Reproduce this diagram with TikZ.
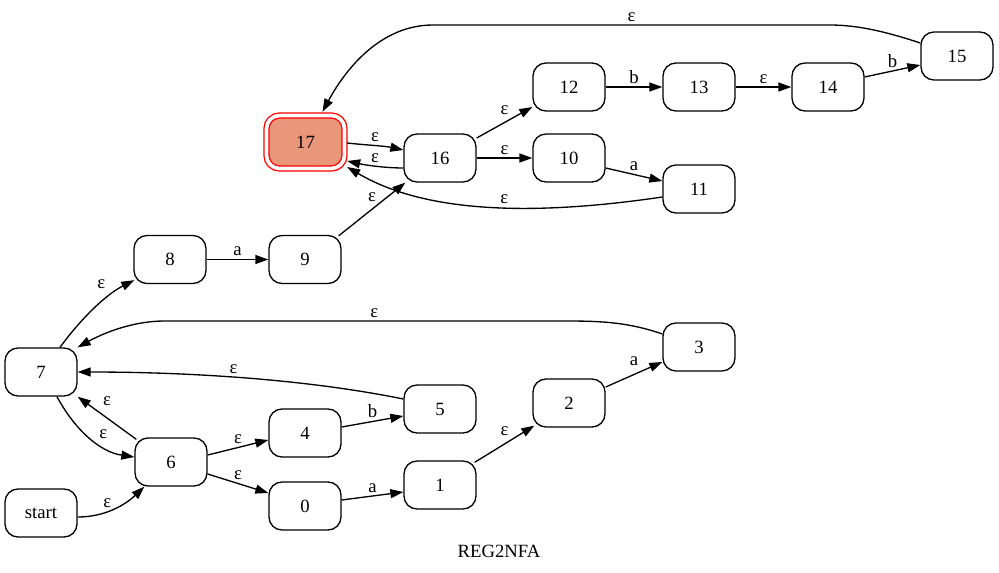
\documentclass[tikz,border=0pt]{standalone}
\usepackage{fontspec}
\setmainfont{Liberation Serif}
\usetikzlibrary{arrows.meta,calc}

\tikzset{
  state/.style={draw,line width=1.33pt,rounded corners=13pt,minimum width=72pt,minimum height=48pt,inner sep=0pt,font=\fontsize{18.7}{22}\selectfont},
  final/.style={state,draw=red,fill=accentfill,minimum width=78pt,minimum height=53pt,double=white,double distance=3.7pt},
  edge/.style={-{Triangle[length=13pt,width=9pt]},line width=1.33pt},
  lbl/.style={font=\fontsize{18.7}{22}\selectfont,inner sep=3pt}
}
\definecolor{accentfill}{HTML}{E9967A}

\begin{document}
\begin{tikzpicture}[x=1pt,y=-1pt]
\useasboundingbox (0,0) rectangle (999,573);
% states
\node[state] (start) at (41,513) {start};
\node[state] (n6) at (171,462) {6};
\node[state] (n7) at (41,372) {7};
\node[state] (n4) at (305,433) {4};
\node[state] (n0) at (305,506) {0};
\node[state] (n5) at (440,409) {5};
\node[state] (n1) at (440,485) {1};
\node[state] (n2) at (569,403) {2};
\node[state] (n3) at (699,347) {3};
\node[state] (n8) at (170,259.5) {8};
\node[state] (n9) at (305,259.5) {9};
\node[state] (n16) at (440,158) {16};
\node[final] (n17) at (305.5,142) {17};
\node[state] (n12) at (569,87) {12};
\node[state] (n13) at (699,87) {13};
\node[state] (n14) at (828,87) {14};
\node[state] (n15) at (957,56) {15};
\node[state] (n10) at (569,158) {10};
\node[state] (n11) at (699,189) {11};
% transitions
\draw[edge] ($(start.east)+(0,4)$) .. controls (105,517) and (125,505) .. node[lbl,above,pos=0.4] {ε} ($(n6.south west)+(10,0)$);
\draw[edge] ($(n7.south)+(16,0)$) .. controls (75,430) and (100,452) .. node[lbl,above=4pt,pos=0.67] {ε} ($(n6.west)+(0,-5)$);
\draw[edge] ($(n6.north west)+(2,2)$) -- node[lbl,above=9pt] {ε} (n7.south east);
\draw[edge] ($(n6.east)+(0,-7)$) -- node[lbl,above] {ε} ($(n4.west)+(0,7)$);
\draw[edge] ($(n6.east)+(0,12)$) -- node[lbl,above] {ε} ($(n0.west)+(0,-13)$);
\draw[edge] ($(n4.east)+(0,-6)$) -- node[lbl,above] {b} ($(n5.west)+(0,7)$);
\draw[edge] ($(n0.east)+(0,-6)$) -- node[lbl,above] {a} ($(n1.west)+(0,7)$);
\draw[edge] ($(n5.west)+(0,-10)$) .. controls (300,378) and (180,372) .. node[lbl,above,pos=0.52] {ε} (n7.east);
\draw[edge] ($(n1.north east)+(-2,2)$) -- node[lbl,above=5pt] {ε} ($(n2.south west)+(2,-2)$);
\draw[edge] ($(n2.east)+(0,-16)$) -- node[lbl,above=5pt] {a} ($(n3.west)+(0,15)$);
\draw[edge] ($(n3.west)+(0,-13)$) .. controls (625,321) and (595,321) .. (560,321)
  -- node[lbl,above,pos=0.47] {ε} (165,321) .. controls (130,321) and (100,335) .. (n7.north east);
\draw[edge] ($(n7.north)+(19,0)$) .. controls (80,320) and (105,295) .. node[lbl,above=10pt,pos=0.6] {ε} ($(n8.south west)+(1,-4)$);
\draw[edge] (n8.east) -- node[lbl,above] {a} (n9.west);
\draw[edge] ($(n9.north east)+(-3,1)$) -- node[lbl,above=4pt] {ε} ($(n16.south west)+(2,0)$);
\draw[edge] ($(n17.east)+(2,1)$) .. controls (365,145) and (385,146) .. node[lbl,above] {ε} ($(n16.west)+(0,-8)$);
\draw[edge] ($(n16.west)+(0,10)$) .. controls (385,168) and (365,165) .. node[lbl,above] {ε} ($(n17.east)+(2,19)$);
\draw[edge] ($(n11.west)+(0,8)$) .. controls (520,218) and (420,210) .. node[lbl,above,pos=0.42] {ε} ($(n17.east)+(2,25)$);
\draw[edge] ($(n16.east)+(0,-20)$) -- node[lbl,above=4pt] {ε} ($(n12.west)+(0,20)$);
\draw[edge] (n16.east) -- node[lbl,above] {ε} (n10.west);
\draw[edge] ($(n10.east)+(0,10)$) -- node[lbl,above] {a} ($(n11.west)+(0,-8)$);
\draw[edge] (n12.east) -- node[lbl,above] {b} (n13.west);
\draw[edge] (n13.east) -- node[lbl,above] {ε} (n14.west);
\draw[edge] ($(n14.east)+(0,-10)$) -- node[lbl,above] {b} ($(n15.west)+(0,9)$);
\draw[edge] ($(n15.west)+(0,-13)$) .. controls (890,33) and (860,25) .. (830,25)
  -- node[lbl,above,pos=0.5] {ε} (433,25) .. controls (380,25) and (345,70) .. ($(n17.north)+(17,-3)$);
% title
\node[lbl] (title) at (499,551) {REG2NFA};
\end{tikzpicture}
\end{document}
